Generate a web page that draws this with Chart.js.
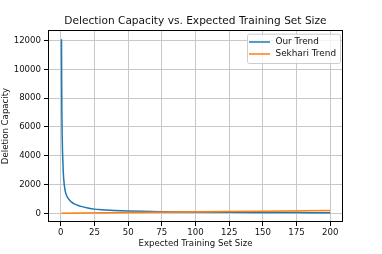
<!DOCTYPE html>
<html>
<head>
<meta charset="utf-8">
<title>Deletion Capacity</title>
<script src="https://cdn.jsdelivr.net/npm/chart.js@4.4.0/dist/chart.umd.min.js"></script>
<style>
  html, body { margin: 0; padding: 0; background: #fff; }
  canvas { display: block; }
</style>
</head>
<body>
<canvas id="capacityChart" width="382" height="254"></canvas>
<script>
// Values
const ourX = [0.5, 0.65, 0.8, 1, 1.25, 1.5, 2, 2.5, 3, 3.5, 4, 5, 6.4, 8, 10, 12.5, 15, 20, 25, 30, 40, 50, 60, 75, 100, 125, 150, 175, 200];
const ourY = [12100, 9000, 7000, 5500, 4400, 3700, 2600, 2050, 1700, 1450, 1300, 1100, 920, 780, 660, 560, 480, 370, 290, 255, 200, 160, 135, 110, 85, 68, 57, 48, 40];
const sekhariX = [0.5, 50, 100, 150, 200];
const sekhariY = [0.5, 50, 100, 150, 198];
const xTicks = [0, 25, 50, 75, 100, 125, 150, 175, 200];
const yTicks = [0, 2000, 4000, 6000, 8000, 10000, 12000];

const toPoints = (xs, ys) => xs.map((x, i) => ({ x: x, y: ys[i] }));

Chart.defaults.font.family = '"DejaVu Sans", sans-serif';
Chart.defaults.color = '#111';

// matplotlib style box around the plot
const frame = {
    id: 'frame',
    afterDatasetsDraw(chart) {
        const a = chart.chartArea;
        const ctx = chart.ctx;
        ctx.save();
        ctx.strokeStyle = '#000';
        ctx.lineWidth = 1;
        ctx.strokeRect(Math.round(a.left) + 0.5, Math.round(a.top) + 0.5,
            Math.round(a.right - a.left) - 1, Math.round(a.bottom - a.top) - 1);
        ctx.restore();
    }
};

// legend drawn inside the plot, upper right
const insideLegend = {
    id: 'insideLegend',
    afterDraw(chart) {
        const a = chart.chartArea;
        const ctx = chart.ctx;
        const boxW = 93, boxH = 29.3, rowH = 12;
        const x0 = a.right - 3 - boxW, y0 = a.top + 3.7;
        ctx.save();
        ctx.beginPath();
        ctx.roundRect(x0 + 0.5, y0 + 0.5, boxW, boxH, 2);
        ctx.fillStyle = 'rgba(255,255,255,0.8)';
        ctx.fill();
        ctx.strokeStyle = '#cccccc';
        ctx.lineWidth = 1;
        ctx.stroke();
        ctx.font = '8.9px "DejaVu Sans"';
        ctx.textBaseline = 'middle';
        chart.data.datasets.forEach((ds, i) => {
            const y = y0 + 8.3 + i * rowH;
            ctx.strokeStyle = ds.borderColor;
            ctx.lineWidth = 1.5;
            ctx.beginPath();
            ctx.moveTo(x0 + 2, y);
            ctx.lineTo(x0 + 23, y);
            ctx.stroke();
            ctx.fillStyle = '#111';
            ctx.fillText(ds.label, x0 + 28.5, y);
        });
        ctx.restore();
    }
};

const tickFont = { size: 8.6 };

const capacityConfig = {
    type: 'line',
    data: {
        datasets: [
            {
                label: 'Our Trend',
                data: toPoints(ourX, ourY),
                borderColor: '#1f77b4',
                borderWidth: 1.5,
                pointRadius: 0,
                cubicInterpolationMode: 'monotone',
                order: 1
            },
            {
                label: 'Sekhari Trend',
                data: toPoints(sekhariX, sekhariY),
                borderColor: '#ff7f0e',
                borderWidth: 1.5,
                pointRadius: 0,
                order: 0
            }
        ]
    },
    options: {
        responsive: false,
        animation: false,
        layout: { padding: { left: 0, right: 39, top: 0, bottom: 0 } },
        plugins: {
            legend: { display: false },
            tooltip: { enabled: false },
            title: {
                display: true,
                text: 'Delection Capacity vs. Expected Training Set Size',
                color: '#111',
                fullSize: false,
                font: { size: 10.6, weight: 'normal', lineHeight: '12px' },
                padding: { top: 15, bottom: 3 }
            }
        },
        scales: {
            x: {
                type: 'linear',
                min: -9.5,
                max: 209.5,
                afterBuildTicks: s => { s.ticks = xTicks.map(v => ({ value: v })); },
                afterFit: s => { s.height = 32; },
                ticks: { font: tickFont, padding: 2, maxRotation: 0, autoSkip: false, callback: v => String(v) },
                grid: { color: '#c8c8c8', tickColor: '#000', tickLength: 4 },
                border: { display: false },
                title: { display: true, text: 'Expected Training Set Size', font: tickFont, padding: { top: 0, bottom: 5 } }
            },
            y: {
                min: -605,
                max: 12740,
                afterBuildTicks: s => { s.ticks = yTicks.map(v => ({ value: v })); },
                afterFit: s => { s.width = 48; },
                ticks: { font: tickFont, padding: 3, autoSkip: false, callback: v => String(v) },
                grid: { color: '#c8c8c8', tickColor: '#000', tickLength: 4 },
                border: { display: false },
                title: { display: true, text: 'Deletion Capacity', font: tickFont, padding: { top: 1, bottom: 0 } }
            }
        }
    },
    plugins: [frame, insideLegend]
};

const capacityCtx = document.getElementById('capacityChart').getContext('2d');
new Chart(capacityCtx, capacityConfig);
</script>
</body>
</html>
